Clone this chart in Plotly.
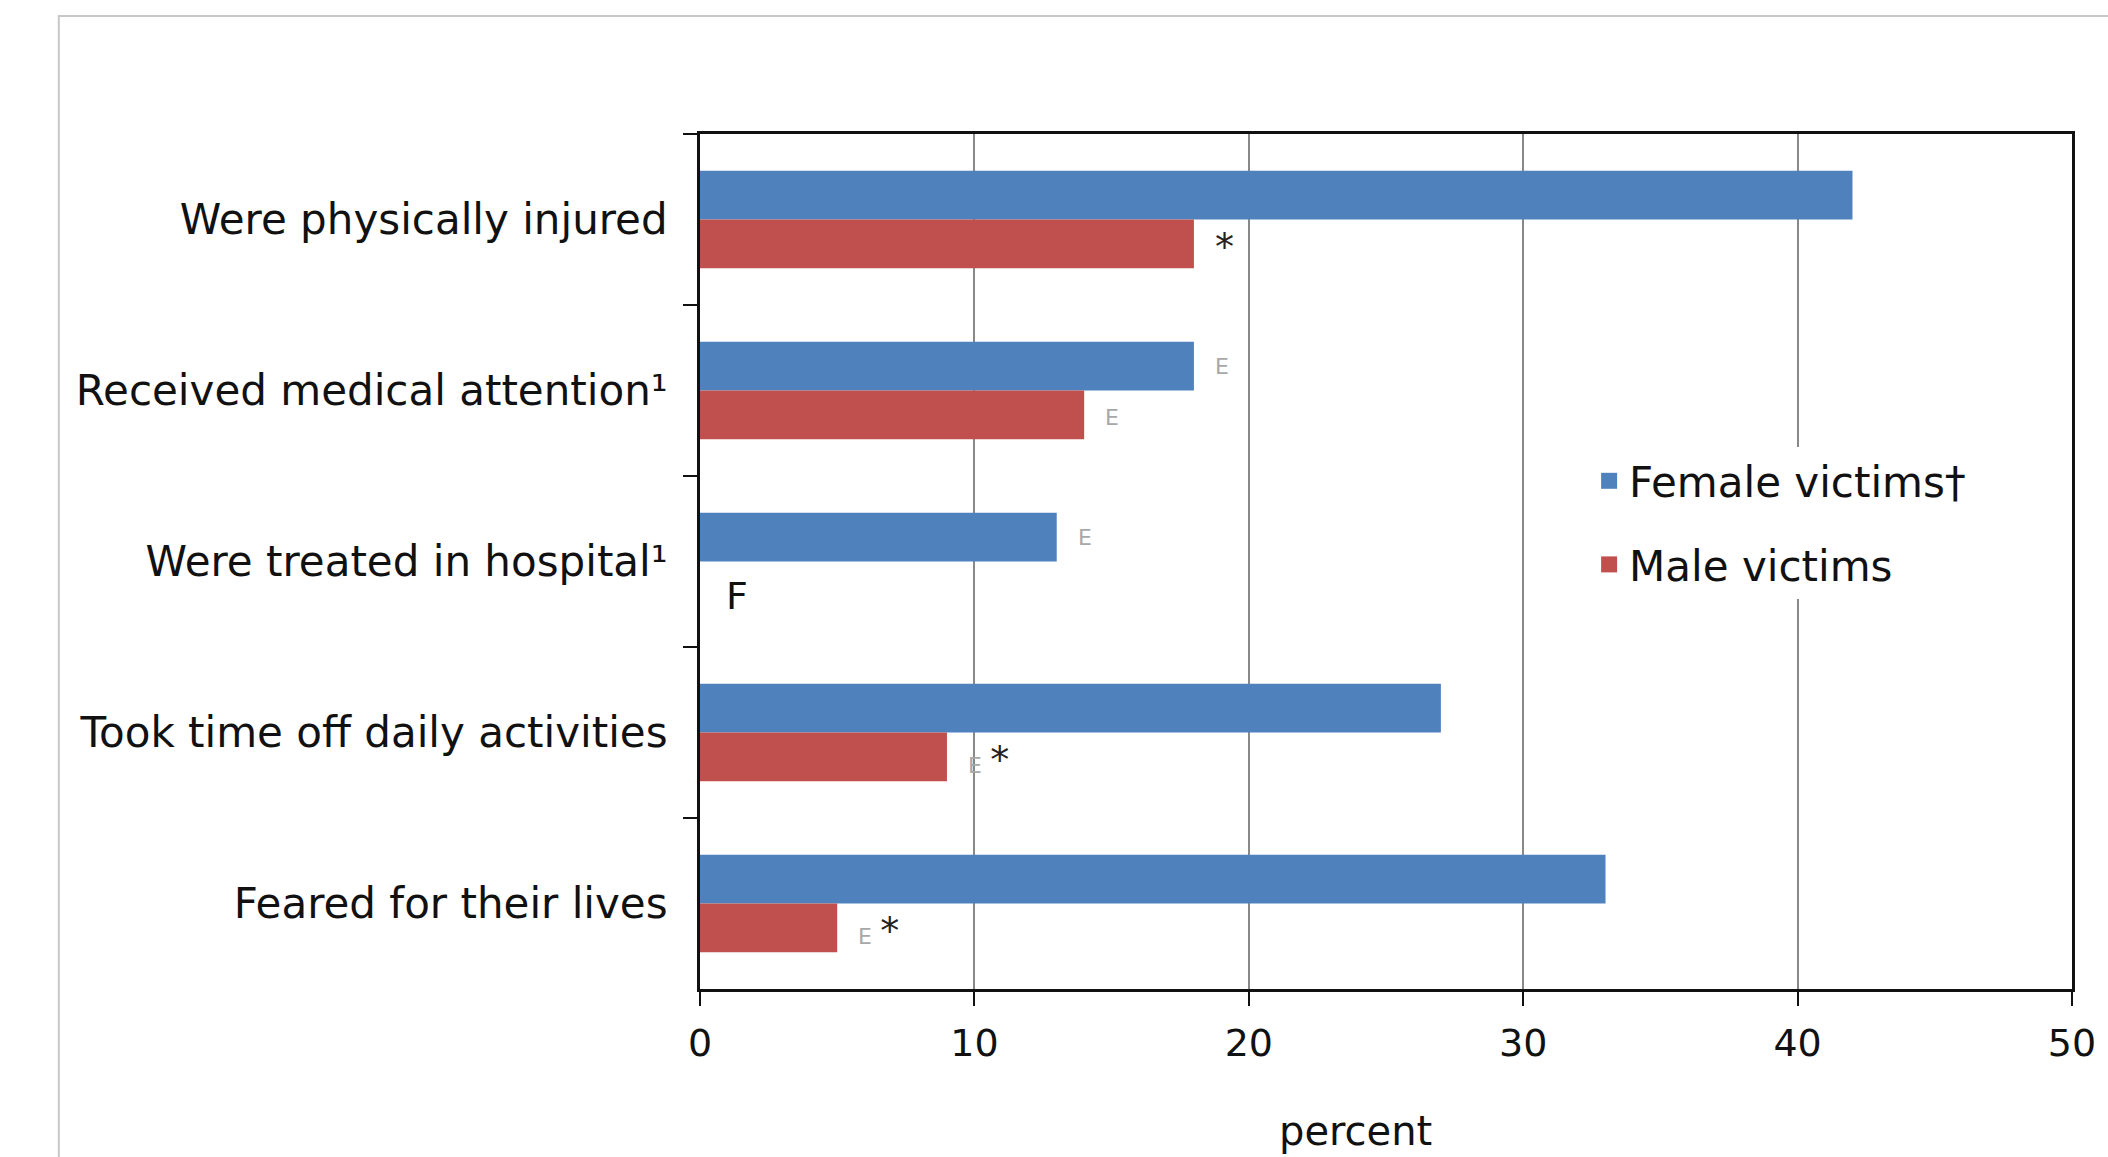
import plotly.graph_objects as go

categories = [
    "Were physically injured",
    "Received medical attention\u00b9",
    "Were treated in hospital\u00b9",
    "Took time off daily activities",
    "Feared for their lives",
]
female_values = [42, 18, 13, 27, 33]
male_values = [18, 14, None, 9, 5]
female_flags = ["", "E", "E", "", ""]
male_flags = ["*", "E", "F", "E *", "E *"]
x_ticks = [0, 10, 20, 30, 40, 50]

BLUE = "#4F81BD"
RED = "#C0504D"
FONT = "DejaVu Sans"
BARGAP = 0.43

fig = go.Figure()
fig.add_trace(go.Bar(y=categories, x=female_values, orientation="h", name="Female victims\u2020",
                     marker=dict(color=BLUE, line=dict(width=0)), showlegend=False))
fig.add_trace(go.Bar(y=categories, x=male_values, orientation="h", name="Male victims",
                     marker=dict(color=RED, line=dict(width=0)), showlegend=False))
# legend entries with larger square swatches
for nm, col, grp in [("Female victims\u2020", BLUE, "f"), ("Male victims", RED, "m")]:
    fig.add_trace(go.Scatter(x=[None], y=[None], mode="markers", name=nm, legendgroup=grp,
                             marker=dict(symbol="square", size=16, color=col), hoverinfo="skip"))

half = (1 - BARGAP) / 4  # center offset of each bar in category units


def flag_text(flag):
    parts = []
    for tok in flag.split():
        if tok == "E":
            parts.append("<span style='font-size:22px;color:#a8a8a8'>E</span>")
        elif tok == "*":
            parts.append("<span style='font-size:38px;color:#222'>*</span>")
        else:
            parts.append(tok)
    return " ".join(parts)


annotations = []
for i, cat in enumerate(categories):
    if female_flags[i]:
        annotations.append(dict(x=female_values[i], y=i - half, xref="x", yref="y",
                                text=flag_text(female_flags[i]), showarrow=False,
                                xanchor="left", xshift=19, font=dict(family=FONT, size=26, color="#222")))
    if male_flags[i] == "F":
        annotations.append(dict(x=0, y=i + half, xref="x", yref="y", text="F", showarrow=False,
                                xanchor="left", xshift=24, yshift=-10,
                                font=dict(family=FONT, size=38, color="#111")))
    elif male_flags[i]:
        annotations.append(dict(x=male_values[i], y=i + half, xref="x", yref="y",
                                text=flag_text(male_flags[i]), showarrow=False,
                                xanchor="left", xshift=19, yshift=-3,
                                font=dict(family=FONT, size=26, color="#222")))

W, H = 2108, 1157
L, R, T, B = 700, 30, 134, 168
pw, ph = W - L - R, H - T - B


def px_to_paper(px, py):
    return (px - L) / pw, (H - B - py) / ph


bx0, by0 = px_to_paper(56, 16)
bx1, by1 = px_to_paper(W + 10, H + 10)
tx, _ = px_to_paper(1358, 0)
lx, ly = px_to_paper(1593, 447)

annotations.append(dict(x=tx, y=0, xref="paper", yref="paper", text="percent", showarrow=False,
                        xanchor="center", yanchor="middle", yshift=-142,
                        font=dict(family=FONT, size=40, color="#111")))

fig.update_layout(
    width=W, height=H,
    margin=dict(l=L, r=R, t=T, b=B),
    paper_bgcolor="white", plot_bgcolor="white",
    barmode="group", bargap=BARGAP, bargroupgap=0,
    font=dict(family=FONT, size=30, color="#111"),
    xaxis=dict(range=[0, 50], tickvals=x_ticks, ticks="outside", ticklen=14, tickwidth=2,
               tickcolor="#111", showgrid=True, gridcolor="#888", gridwidth=1.5,
               showline=True, linecolor="#111", linewidth=3, mirror=True, zeroline=False,
               tickfont=dict(family=FONT, size=38, color="#111"), ticklabelstandoff=4,
               fixedrange=True),
    yaxis=dict(autorange="reversed", tickson="boundaries", ticks="outside", ticklen=14, tickwidth=2,
               tickcolor="#111", showline=True, linecolor="#111", linewidth=3, mirror=True,
               showgrid=False, ticklabelstandoff=21,
               tickfont=dict(family=FONT, size=42, color="#111"), fixedrange=True),
    legend=dict(x=lx, y=ly, xanchor="left", yanchor="top", bgcolor="white",
                font=dict(family=FONT, size=42, color="#111"), traceorder="grouped",
                tracegroupgap=26, itemwidth=30),
    showlegend=True,
    annotations=annotations,
    shapes=[dict(type="path", xref="paper", yref="paper",
                 path=f"M {bx0} {by1} L {bx0} {by0} L {bx1} {by0}",
                 line=dict(color="#c8c8c8", width=2), layer="below")],
)

fig.write_html(
    "out.html",
    config={"displayModeBar": False},
    post_script="document.body.style.margin='0';document.body.style.overflow='hidden';",
)
